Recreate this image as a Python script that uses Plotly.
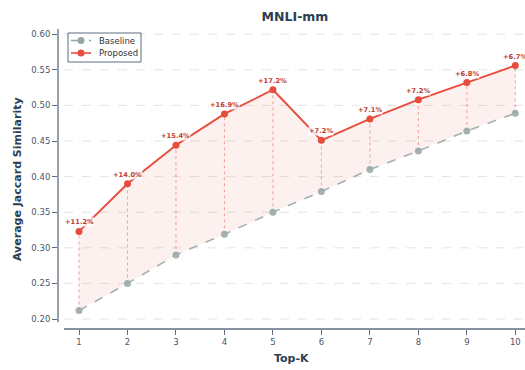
import plotly.graph_objects as go

top_k = [1, 2, 3, 4, 5, 6, 7, 8, 9, 10]
baseline = [0.212, 0.250, 0.290, 0.319, 0.350, 0.379, 0.410, 0.436, 0.464, 0.489]
proposed = [0.323, 0.390, 0.444, 0.488, 0.522, 0.451, 0.481, 0.508, 0.532, 0.556]
gain_labels = ["+11.2%", "+14.0%", "+15.4%", "+16.9%", "+17.2%",
               "+7.2%", "+7.1%", "+7.2%", "+6.8%", "+6.7%"]
y_ticks = [0.20, 0.25, 0.30, 0.35, 0.40, 0.45, 0.50, 0.55, 0.60]
series_names = ["Baseline", "Proposed"]

RED = "#e74c3c"
GRAY = "#95a5a6"
DARK = "#2c3e50"
SPINE = "#5d6d7e"
TICK = "#4a5568"
FONT = "DejaVu Sans"

W, H = 525, 370
ML, MR, MT, MB = 58, 0, 29, 41
PW, PH = W - ML - MR, H - MT - MB


def px(x):
    return (x - ML) / PW


def py(y):
    return (H - MB - y) / PH


fig = go.Figure()

# fill between
fig.add_trace(go.Scatter(x=top_k, y=baseline, mode="lines", line=dict(width=0),
                         showlegend=False, hoverinfo="skip"))
fig.add_trace(go.Scatter(x=top_k, y=proposed, mode="lines", line=dict(width=0),
                         fill="tonexty", fillcolor="rgba(231,76,60,0.08)",
                         showlegend=False, hoverinfo="skip"))

# vertical dotted connectors
vx, vy = [], []
for k, b, p in zip(top_k, baseline, proposed):
    vx += [k, k, None]
    vy += [b, p, None]
fig.add_trace(go.Scatter(x=vx, y=vy, mode="lines",
                         line=dict(color="rgba(231,76,60,0.45)", width=1.1, dash="dot"),
                         showlegend=False, hoverinfo="skip"))

fig.add_trace(go.Scatter(x=top_k, y=baseline, mode="lines+markers", name=series_names[0],
                         line=dict(color=GRAY, width=1.6, dash="dash"),
                         marker=dict(color=GRAY, size=7, line=dict(width=0)),
                         opacity=0.85, showlegend=False))
fig.add_trace(go.Scatter(x=top_k, y=proposed, mode="lines+markers", name=series_names[1],
                         line=dict(color=RED, width=1.9),
                         marker=dict(color=RED, size=7, line=dict(width=0)),
                         showlegend=False))

for k, p, t in zip(top_k, proposed, gain_labels):
    fig.add_annotation(x=k, y=p, text="<b>%s</b>" % t, showarrow=False,
                       yshift=9, font=dict(family=FONT, size=6.7, color="#c0392b"),
                       bgcolor="rgba(255,255,255,0.8)", borderpad=0)

# dashed grid (starts at offset x spine)
for v in y_ticks:
    fig.add_shape(type="line", xref="paper", yref="y", x0=px(64), x1=1, y0=v, y1=v,
                  line=dict(color="#dcdcdc", width=0.8, dash="dash"), layer="below")

# axis titles
fig.add_annotation(xref="paper", yref="paper", x=0.5, y=py(358), yanchor="middle",
                   text="<b>Top-K</b>", showarrow=False,
                   font=dict(family=FONT, size=11, color=DARK))
fig.add_annotation(xref="paper", yref="paper", x=px(17), xanchor="center", y=0.5,
                   textangle=-90, text="<b>Average Jaccard Similarity</b>", showarrow=False,
                   font=dict(family=FONT, size=11, color=DARK))

# offset spines
fig.add_shape(type="line", xref="paper", yref="paper", x0=0, x1=0, y0=py(322), y1=1,
              line=dict(color=SPINE, width=1.3))
fig.add_shape(type="line", xref="paper", yref="paper", x0=px(64), x1=1.02, y0=0, y1=0,
              line=dict(color=SPINE, width=1.3))

# custom legend
fig.add_shape(type="rect", xref="paper", yref="paper", x0=px(68), x1=px(141),
              y0=py(62), y1=py(33), line=dict(color=SPINE, width=1),
              fillcolor="rgba(255,255,255,0.9)")
legend_rows = [(series_names[0], GRAY, "dash", 40.5), (series_names[1], RED, "solid", 53)]
for name, col, dash, yy in legend_rows:
    fig.add_shape(type="line", xref="paper", yref="paper", x0=px(71), x1=px(91),
                  y0=py(yy), y1=py(yy), line=dict(color=col, width=1.6, dash=dash))
    fig.add_shape(type="circle", xref="paper", yref="paper", x0=px(77.5), x1=px(84.5),
                  y0=py(yy + 3.5), y1=py(yy - 3.5), line=dict(width=0), fillcolor=col)
    fig.add_annotation(xref="paper", yref="paper", x=px(97), xanchor="left",
                       y=py(yy), yanchor="middle", text=name, showarrow=False,
                       font=dict(family=FONT, size=8.5, color="#333333"))

fig.update_layout(
    width=W, height=H,
    margin=dict(l=ML, r=MR, t=MT, b=MB, autoexpand=False),
    paper_bgcolor="white", plot_bgcolor="white",
    font=dict(family=FONT, color=TICK),
    showlegend=False,
    title=dict(text="<b>MNLI-mm</b>", x=px(295) * PW / W + ML / W, xanchor="center",
               y=1 - 17 / H, yanchor="middle",
               font=dict(family=FONT, size=12.5, color=DARK)),
    xaxis=dict(range=[0.5665, 10.2], tickvals=top_k, ticks="outside", ticklen=5,
               tickcolor=SPINE, tickwidth=1, showgrid=False, zeroline=False, showline=False,
               automargin=False,
               tickfont=dict(family=FONT, size=8.5, color=TICK)),
    yaxis=dict(range=[0.186, 0.6073], tickvals=y_ticks, tickformat=".2f", ticks="outside",
               ticklen=5, tickcolor=SPINE, tickwidth=1, showgrid=False,
               zeroline=False, showline=False, automargin=False,
               tickfont=dict(family=FONT, size=8.5, color=TICK)),
)

fig.write_html("out.html", config={"displayModeBar": False},
               post_script="document.body.style.margin='0';document.body.style.padding='0';")
